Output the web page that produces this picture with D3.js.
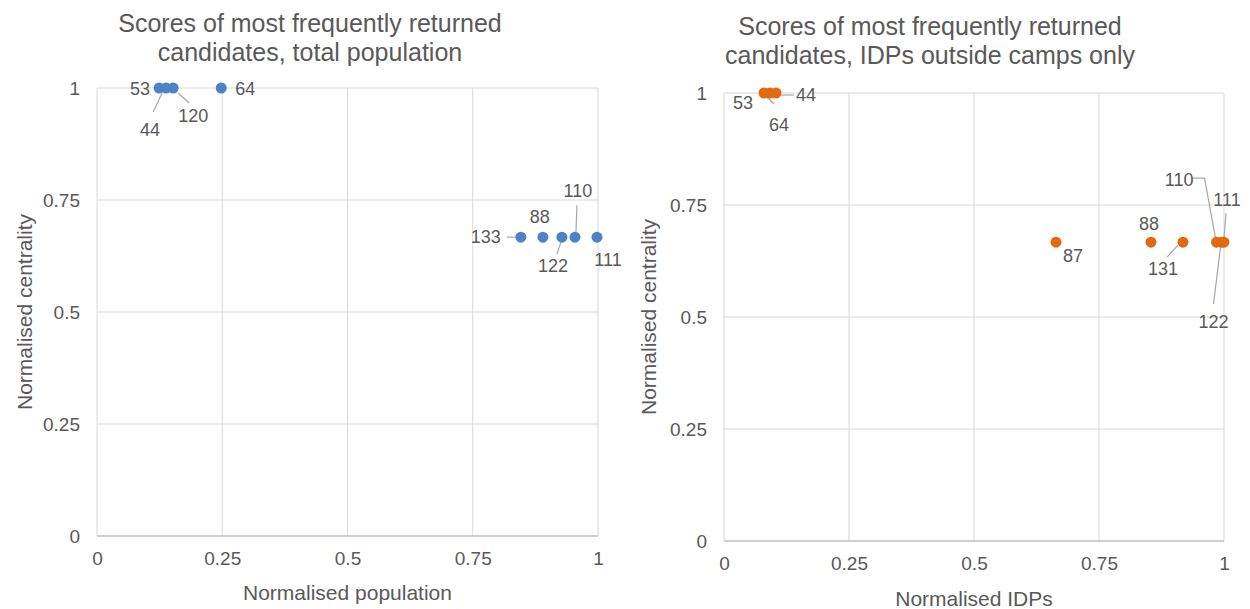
<!DOCTYPE html>
<html><head><meta charset="utf-8">
<script src="https://cdn.jsdelivr.net/npm/d3@7"></script>
<style>body{margin:0;background:#fff}svg{display:block}text{font-family:"Liberation Sans",Arial,sans-serif;fill:#595959}</style>
</head><body>
<svg id="c" width="1250" height="609"></svg>
<script>
// ---- data ----
const ticks = [0, 0.25, 0.5, 0.75, 1];
const tickLabels = ["0", "0.25", "0.5", "0.75", "1"];

const popIds = ["53", "44", "120", "64", "133", "88", "122", "110", "111"];
const popX   = [0.124, 0.138, 0.152, 0.248, 0.846, 0.890, 0.928, 0.954, 0.998];
const popY   = [1, 1, 1, 1, 0.667, 0.667, 0.667, 0.667, 0.667];

const idpIds = ["53", "64", "44", "87", "88", "131", "110", "122", "111"];
const idpX   = [0.080, 0.092, 0.104, 0.664, 0.854, 0.918, 0.985, 0.995, 1.0];
const idpY   = [1, 1, 1, 0.667, 0.667, 0.667, 0.667, 0.667, 0.667];

// ---- layout (label placement, px offsets from the point) ----
const popLabelLayout = {
  "53":  {dx:-9,  dy:1,  anchor:"end"},
  "44":  {dx:-16, dy:42, anchor:"middle", leader:[[-4,5],[-13,24]]},
  "120": {dx:20,  dy:28, anchor:"middle", leader:[[5,5],[16,15]]},
  "64":  {dx:14,  dy:1,  anchor:"start"},
  "133": {dx:-20, dy:0,  anchor:"end", leader:[[-14,0],[-4,0]]},
  "88":  {dx:-3,  dy:-20,anchor:"middle"},
  "122": {dx:-9,  dy:29, anchor:"middle", leader:[[-1,5],[-5,17]]},
  "110": {dx:3,   dy:-46,anchor:"middle", leader:[[2,-32],[1,-5]]},
  "111": {dx:11,  dy:23, anchor:"middle"}
};
const idpLabelLayout = {
  "53":  {dx:-21, dy:10, anchor:"middle"},
  "64":  {dx:9,   dy:32, anchor:"middle", leader:[[-3,4],[4,11]]},
  "44":  {dx:20,  dy:2,  anchor:"start", leader:[[4,2],[18,2]]},
  "87":  {dx:17,  dy:14, anchor:"middle"},
  "88":  {dx:-2,  dy:-18,anchor:"middle"},
  "131": {dx:-20, dy:27, anchor:"middle", leader:[[-5,3],[-16,15]]},
  "110": {dx:-23, dy:-62,anchor:"end", leader:[[-24,-64],[-12,-64],[-1,-4]]},
  "122": {dx:-8,  dy:80, anchor:"middle", leader:[[-1,5],[-8,62]]},
  "111": {dx:3,   dy:-42,anchor:"middle", leader:[[2,-29],[0,-4]]}
};

const svg = d3.select("#c");

function panel(cfg){
  const x = d3.scaleLinear().domain([0,1]).range([cfg.x0, cfg.x1]);
  const y = d3.scaleLinear().domain([0,1]).range([cfg.y0, cfg.y1]);
  const g = svg.append("g");

  // gridlines
  g.selectAll(".vg").data(ticks).join("line")
    .attr("x1", d=>x(d)).attr("x2", d=>x(d)).attr("y1", y(0)).attr("y2", y(1))
    .attr("stroke", "#d9d9d9").attr("stroke-width", 1);
  g.selectAll(".hg").data(ticks.filter(t=>t>0)).join("line")
    .attr("y1", d=>y(d)).attr("y2", d=>y(d)).attr("x1", x(0)).attr("x2", x(1))
    .attr("stroke", "#d9d9d9").attr("stroke-width", 1);
  g.append("line").attr("x1", x(0)).attr("x2", x(1)).attr("y1", y(0)).attr("y2", y(0))
    .attr("stroke", "#bfbfbf").attr("stroke-width", 1.3);

  // axes (labels only)
  const xa = d3.axisBottom(x).tickValues(ticks).tickFormat((d,i)=>tickLabels[i]).tickSize(0).tickPadding(16);
  const ya = d3.axisLeft(y).tickValues(ticks).tickFormat((d,i)=>tickLabels[i]).tickSize(0).tickPadding(17);
  const gx = g.append("g").attr("transform", `translate(0,${y(0)})`).call(xa);
  const gy = g.append("g").attr("transform", `translate(${x(0)},0)`).call(ya);
  [gx, gy].forEach(a=>{ a.select(".domain").remove(); a.selectAll("text").style("font-size","19px").style("font-family",null).attr("fill","#595959"); });

  // titles
  g.append("text").attr("x", cfg.tx).attr("y", cfg.ty).attr("text-anchor","middle")
    .style("font-size","25px")
    .selectAll("tspan").data(cfg.title).join("tspan")
    .attr("x", cfg.tx).attr("dy", (d,i)=> i ? 29 : 0).text(d=>d);
  g.append("text").attr("x", (x(0)+x(1))/2).attr("y", cfg.xty).attr("text-anchor","middle")
    .style("font-size","21px").text(cfg.xTitle);
  g.append("text").attr("transform", `translate(${cfg.ytx},${(y(0)+y(1))/2}) rotate(-90)`)
    .attr("text-anchor","middle").style("font-size","21px").text(cfg.yTitle);

  const pts = cfg.ids.map((id,i)=>({id, px:x(cfg.xs[i]), py:y(cfg.ys[i])}));

  // leader lines
  pts.forEach(p=>{
    const L = cfg.layout[p.id];
    if (L.leader) {
      g.append("path").attr("d", d3.line()(L.leader.map(q=>[p.px+q[0], p.py+q[1]])))
        .attr("fill","none").attr("stroke","#a6a6a6").attr("stroke-width",1.2);
    }
  });
  // points
  g.selectAll("circle.pt").data(pts).join("circle").attr("class","pt")
    .attr("cx", d=>d.px).attr("cy", d=>d.py).attr("r", 5.5).attr("fill", cfg.color);
  // labels
  g.selectAll("text.lbl").data(pts).join("text").attr("class","lbl")
    .attr("x", d=>d.px + cfg.layout[d.id].dx).attr("y", d=>d.py + cfg.layout[d.id].dy)
    .attr("dy","0.35em").attr("text-anchor", d=>cfg.layout[d.id].anchor)
    .style("font-size","18px").attr("fill","#404040").text(d=>d.id);
}

panel({x0:97, x1:598, y0:536, y1:88, color:"#4f81c7",
  title:["Scores of most frequently returned","candidates, total population"], tx:310, ty:32,
  xTitle:"Normalised population", xty:600, yTitle:"Normalised centrality", ytx:32,
  ids:popIds, xs:popX, ys:popY, layout:popLabelLayout});
panel({x0:724, x1:1224, y0:541, y1:93, color:"#e2690f",
  title:["Scores of most frequently returned","candidates, IDPs outside camps only"], tx:930, ty:35,
  xTitle:"Normalised IDPs", xty:606, yTitle:"Normalised centrality", ytx:656,
  ids:idpIds, xs:idpX, ys:idpY, layout:idpLabelLayout});
</script>
</body></html>
